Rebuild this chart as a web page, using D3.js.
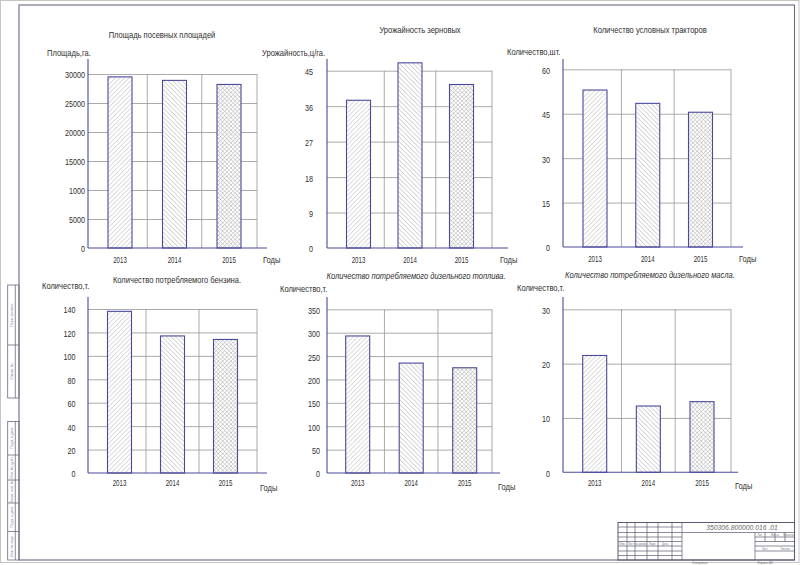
<!DOCTYPE html>
<html><head><meta charset="utf-8">
<script src="https://cdn.jsdelivr.net/npm/d3@7"></script>
<style>
html,body{margin:0;padding:0;background:#fff;}
svg{display:block;}
text{font-family:"Liberation Sans",Arial,sans-serif;fill:#2e2e2e;}
</style></head><body>
<svg id="c" width="800" height="565"></svg>
<script>
// ---------- data ----------
const years = ["2013", "2014", "2015"];
const sownArea = [29500, 28900, 28200];
const grainYield = [37.5, 47, 41.5];
const tractors = [53, 48.5, 45.5];
const petrol = [138, 117, 114];
const dieselFuel = [293, 235, 225];
const dieselOil = [21.5, 12.2, 13];

const areaTicks = [0, 5000, 10000, 15000, 20000, 25000, 30000];
const areaTickLabels = ["0", "5000", "1000", "15000", "20000", "25000", "30000"];
const yieldTicks = [0, 9, 18, 27, 36, 45];
const tractorTicks = [0, 15, 30, 45, 60];
const petrolTicks = [0, 20, 40, 60, 80, 100, 120, 140];
const dieselTicks = [0, 50, 100, 150, 200, 250, 300, 350];
const oilTicks = [0, 10, 20, 30];

const titles = ["Площадь посевных площадей", "Урожайность зерновых", "Количество условных тракторов",
  "Количество потребляемого бензина.", "Количество потребляемого дизельного топлива.", "Количество потребляемого дизельного масла."];
const yLabels = ["Площадь,га.", "Урожайность,ц/га.", "Количество,шт.", "Количество,т.", "Количество,т.", "Количество,т."];
const xLabel = "Годы";
const docNumber = "350306.800000.016 .01";

const series = [sownArea, grainYield, tractors, petrol, dieselFuel, dieselOil];
const tickSets = [areaTicks, yieldTicks, tractorTicks, petrolTicks, dieselTicks, oilTicks];
const tickLabelSets = [areaTickLabels, null, null, null, null, null];

// ---------- layout ----------
const layout = [
  {ax:88,  top:59,  base:248,   yMax:74,    c1:120,   c3:229,   gridR:257, baseR:267, labR:85,  titleX:162, titleY:35,  ylX:47,  ylY:53,  godyX:263, yrY:260,   godyY:260, italic:false},
  {ax:327, top:59,  base:248,   yMax:70.7,  c1:358.5, c3:461.5, gridR:492, baseR:508, labR:313, titleX:420, titleY:30,  ylX:262, ylY:53,  godyX:500, yrY:260,   godyY:260, italic:false},
  {ax:563, top:59,  base:247,   yMax:69.3,  c1:595,   c3:700.5, gridR:731, baseR:743, labR:550, titleX:650, titleY:30,  ylX:507, ylY:52,  godyX:739, yrY:259,   godyY:259, italic:false},
  {ax:88,  top:297, base:473,   yMax:309,   c1:119.5, c3:225.5, gridR:257, baseR:267, labR:75.5,titleX:177, titleY:280, ylX:42,  ylY:286, godyX:260, yrY:483.5, godyY:488, italic:false},
  {ax:327, top:297, base:473,   yMax:309.3, c1:357.7, c3:464.7, gridR:492, baseR:500, labR:320, titleX:416, titleY:276, ylX:280, ylY:289, godyX:498, yrY:483.5, godyY:487, italic:true},
  {ax:563, top:297, base:472.3, yMax:309.3, c1:594.7, c3:702,   gridR:731, baseR:738, labR:550, titleX:650, titleY:275, ylX:517, ylY:288, godyX:735, yrY:483.5, godyY:486, italic:true}
];

const PURPLE = "#4a4a9c";
const GRID = "#959595";
const svg = d3.select("#c");

function label(g, x, y, s, o = {}) {
  return g.append("text")
    .attr("transform", `translate(${x},${y}) scale(${o.sx || 0.85},1)${o.rot ? " rotate(" + o.rot + ")" : ""}`)
    .attr("text-anchor", o.anchor || "start")
    .attr("dominant-baseline", "central")
    .style("font-size", (o.size || 9) + "px")
    .style("font-style", o.italic ? "italic" : "normal")
    .style("fill", o.fill || null)
    .text(s);
}

// ---------- patterns ----------
const defs = svg.append("defs");
function pat(id, d, size, col) {
  const p = defs.append("pattern").attr("id", id).attr("patternUnits", "userSpaceOnUse")
    .attr("width", size).attr("height", size);
  p.append("rect").attr("width", size).attr("height", size).attr("fill", "#fff");
  p.append("path").attr("d", d).attr("stroke", col).attr("stroke-width", 0.5).attr("fill", "none");
}
const s = 4.6;
pat("h0", `M-1,1 l2,-2 M0,${s} l${s},-${s} M${s-1},${s+1} l2,-2`, s, "#9a9a9a");
pat("h1", `M-1,${s-1} l2,2 M0,0 l${s},${s} M${s-1},-1 l2,2`, s, "#8a8a8a");
const q = 4.2;
pat("h2", `M-1,1 l2,-2 M0,${q} l${q},-${q} M${q-1},${q+1} l2,-2 M-1,${q-1} l2,2 M0,0 l${q},${q} M${q-1},-1 l2,2`, q, "#9a9a9a");

// ---------- page frame ----------
svg.append("rect").attr("x", 0.5).attr("y", 0.5).attr("width", 798.5).attr("height", 562)
  .attr("fill", "none").attr("stroke", "#c4c4c4").attr("stroke-width", 1);
svg.append("rect").attr("x", 19).attr("y", 5).attr("width", 775.5).attr("height", 555)
  .attr("fill", "none").attr("stroke", "#6a6a82").attr("stroke-width", 1.1);

// left strip
const strip = svg.append("g").attr("stroke", "#6a6a82").attr("stroke-width", 0.8).attr("fill", "none");
const stripUpper = [285, 345, 398];
const stripLower = [421.5, 455, 480, 503, 531.5, 560];
const stripUpperText = ["Перв. примен.", "Справ. №"];
const stripLowerText = ["Подп. и дата", "Инв. № дубл.", "Взам. инв. №", "Подп. и дата", "Инв. № подл."];
[stripUpper, stripLower].forEach((arr, k) => {
  strip.append("rect").attr("x", 7.7).attr("y", arr[0]).attr("width", 11.3).attr("height", arr[arr.length-1] - arr[0]);
  strip.append("line").attr("x1", 15.3).attr("x2", 15.3).attr("y1", arr[0]).attr("y2", arr[arr.length-1]);
  arr.slice(1, -1).forEach(v => strip.append("line").attr("x1", 7.7).attr("x2", 19).attr("y1", v).attr("y2", v));
  const txts = k === 0 ? stripUpperText : stripLowerText;
  txts.forEach((t, j) => label(svg, 11.5, (arr[j] + arr[j+1]) / 2, t,
    {anchor:"middle", size:3.6, sx:1, rot:-90, fill:"#777"}));
});

// title block
const tb = svg.append("g").attr("stroke", "#5a5a70").attr("stroke-width", 0.7).attr("fill", "none");
tb.append("rect").attr("x", 618).attr("y", 522.5).attr("width", 176.5).attr("height", 37.5).attr("stroke-width", 1);
[627, 635, 647, 658, 672, 682].forEach(v => tb.append("line").attr("x1", v).attr("x2", v).attr("y1", 522.5).attr("y2", 560));
[527, 532.5, 537, 541.5, 546, 551, 555.5].forEach(v => tb.append("line").attr("x1", 618).attr("x2", 682).attr("y1", v).attr("y2", v));
tb.append("line").attr("x1", 682).attr("x2", 794.5).attr("y1", 532.5).attr("y2", 532.5);
tb.append("line").attr("x1", 755).attr("x2", 755).attr("y1", 532.5).attr("y2", 560);
[765, 775, 785].forEach(v => tb.append("line").attr("x1", v).attr("x2", v).attr("y1", 532.5).attr("y2", 541.5));
[537, 541.5, 546].forEach(v => tb.append("line").attr("x1", 755).attr("x2", 794.5).attr("y1", v).attr("y2", v));
tb.append("line").attr("x1", 755).attr("x2", 794.5).attr("y1", 551).attr("y2", 551);
label(svg, 742, 527.5, docNumber, {anchor:"middle", size:8, sx:0.85, italic:true, fill:"#666"});
const stampHead = ["Изм.", "Лист", "№ докум.", "Подп.", "Дата"];
const stampCols = [618, 627, 635, 647, 658, 672];
stampHead.forEach((t, j) => label(svg, (stampCols[j] + (stampCols[j+1] || 682)) / 2, 543.8, t,
  {anchor:"middle", size:3.2, sx:0.85, fill:"#777"}));
label(svg, 760, 534.8, "Лит.", {anchor:"middle", size:3.2, sx:0.85, fill:"#777"});
label(svg, 775, 534.8, "Масса", {anchor:"middle", size:3.2, sx:0.85, fill:"#777"});
label(svg, 789, 534.8, "Масштаб", {anchor:"middle", size:3.2, sx:0.85, fill:"#777"});
label(svg, 765, 548.5, "Лист", {anchor:"middle", size:3.2, sx:0.85, fill:"#777"});
label(svg, 785, 548.5, "Листов", {anchor:"middle", size:3.2, sx:0.85, fill:"#777"});
label(svg, 700, 563, "Копировал", {anchor:"middle", size:3.6, sx:0.85, fill:"#777"});
label(svg, 765, 563, "Формат A3", {anchor:"middle", size:3.6, sx:0.85, fill:"#777"});

// ---------- charts ----------
layout.forEach((L, i) => {
  const g = svg.append("g");
  const ticks = tickSets[i];
  const labels = tickLabelSets[i];
  const values = series[i];
  const y = d3.scaleLinear().domain([0, d3.max(ticks)]).range([L.base, L.yMax]);
  const step = (L.c3 - L.c1) / 2;
  const pi = 1 - 24 / step;
  const x = d3.scaleBand().domain(years).range([L.c1 - step / 2, L.c3 + step / 2])
    .paddingInner(pi).paddingOuter(pi / 2);

  // horizontal grid
  g.append("g").attr("transform", `translate(${L.ax},0)`)
    .call(d3.axisLeft(y).tickValues(ticks.filter(t => t > 0)).tickSize(-(L.gridR - L.ax)).tickFormat(""))
    .call(a => a.select(".domain").remove())
    .selectAll("line").attr("stroke", GRID).attr("stroke-width", 0.8);

  // vertical grid
  const vx = years.slice(0, -1).map(d => x(d) + x.bandwidth() / 2 + x.step() / 2).concat([L.gridR]);
  g.selectAll(".vg").data(vx).enter().append("line")
    .attr("x1", d => d).attr("x2", d => d).attr("y1", y(d3.max(ticks))).attr("y2", L.base)
    .attr("stroke", GRID).attr("stroke-width", 0.8);

  // bars
  g.selectAll(".bar").data(values).enter().append("rect")
    .attr("x", (d, j) => x(years[j])).attr("y", d => y(d))
    .attr("width", x.bandwidth()).attr("height", d => L.base - y(d))
    .attr("fill", (d, j) => `url(#h${j})`).attr("stroke", PURPLE).attr("stroke-width", 1.1);

  // axes lines
  g.append("line").attr("x1", L.ax).attr("x2", L.ax).attr("y1", L.top).attr("y2", L.base)
    .attr("stroke", PURPLE).attr("stroke-width", 1.1);
  g.append("line").attr("x1", L.ax).attr("x2", L.baseR).attr("y1", L.base).attr("y2", L.base)
    .attr("stroke", PURPLE).attr("stroke-width", 1.1);

  // y tick labels
  const ya = g.append("g").attr("transform", `translate(${L.labR},0)`)
    .call(d3.axisLeft(y).tickValues(ticks).tickSize(0).tickPadding(0)
      .tickFormat((d, j) => labels ? labels[j] : String(d)));
  ya.select(".domain").remove();
  ya.selectAll("text").attr("x", 0).attr("y", 1.2).attr("dy", null)
    .attr("dominant-baseline", "central").attr("transform", "scale(0.8,1)")
    .style("font-size", "9px");

  // x tick labels (years)
  const xa = g.append("g").attr("transform", `translate(0,${L.yrY})`)
    .call(d3.axisBottom(x).tickSize(0).tickPadding(0));
  xa.select(".domain").remove();
  xa.selectAll("text").attr("y", 0).attr("dy", null)
    .attr("dominant-baseline", "central").attr("transform", "scale(0.68,1)")
    .style("font-size", "9px");
  xa.selectAll(".tick").attr("transform", d => `translate(${x(d) + x.bandwidth() / 2},0)`);

  // titles and labels
  label(g, L.titleX, L.titleY, titles[i], {anchor:"middle", size:9, sx:0.84, italic:L.italic});
  label(g, L.ylX, L.ylY, yLabels[i], {size:9, sx:0.84});
  label(g, L.godyX, L.godyY, xLabel, {size:9, sx:0.84});
});
</script>
</body></html>
